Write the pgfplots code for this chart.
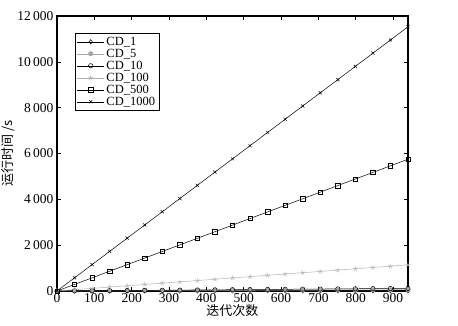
\documentclass[border=0pt]{standalone}
\usepackage{pgfplots}
\pgfplotsset{compat=1.18}
\usepackage{fontspec}
\setmainfont{Liberation Serif}
\newfontfamily\cjk{Noto Sans CJK SC}
\usetikzlibrary{plotmarks}
\pgfplotstableread{
x c1 c5 c10 c100 c500 c1000
0 0 0 0 0 0 0
47 0.6 3 6 57 288 576
94 1.2 6 11 114 575 1153
141 1.8 9 17 171 863 1729
188 2.4 12 23 228 1150 2306
235 3.0 15 29 285 1438 2882
282 3.6 17 34 342 1725 3459
329 4.2 20 40 399 2013 4035
376 4.8 23 46 456 2300 4612
423 5.4 26 51 513 2588 5188
470 6.0 29 57 570 2875 5765
517 6.6 32 63 627 3163 6341
564 7.2 35 68 684 3450 6918
611 7.8 38 74 741 3738 7494
658 8.4 41 80 798 4025 8071
705 9.0 44 86 855 4313 8647
752 9.6 46 91 912 4600 9224
799 10.2 49 97 969 4888 9800
846 10.8 52 103 1026 5175 10377
893 11.4 55 108 1083 5463 10953
940 12.0 58 114 1140 5750 11530
}\data
\begin{document}
\begin{tikzpicture}
\useasboundingbox (-57pt,-34pt) rectangle (401pt,291pt);
\begin{axis}[
  at={(0pt,0pt)}, anchor=south west,
  scale only axis, width=351pt, height=275pt,
  xmin=0, xmax=940, ymin=0, ymax=12000,
  xtick={0,100,...,900}, ytick={0,2000,...,12000},
  tick align=inside, major tick length=4pt,
  axis line style={line width=1.2pt},
  tick style={black, line width=0.6pt},
  every tick label/.append style={font=\fontsize{13.5}{13.5}\selectfont},
  /pgf/number format/assume math mode=true,
  /pgf/number format/1000 sep={\,},
  xticklabel style={yshift=1.5pt},
  yticklabel style={xshift=0pt},
  scaled ticks=false,
  xlabel={\cjk 迭代次数},
  ylabel={\cjk 运行时间 /s},
  xlabel style={font=\fontsize{13}{13}\selectfont, yshift=4pt},
  ylabel style={font=\fontsize{13}{13}\selectfont, yshift=-4pt},
  legend style={at={(0.05,0.94)}, anchor=north west, draw=black, line width=0.8pt,
    font=\fontsize{12.5}{10}\selectfont, row sep=-1.8pt, inner sep=2pt,
    legend cell align=left},
  legend image code/.code={\draw[mark=none] (0cm,0cm) -- (0.95cm,0cm); \draw[only marks] plot coordinates {(0.475cm,0cm)};},
  every axis plot/.append style={line width=0.5pt, mark size=2.2pt},
  clip=false,
]
\addplot[black, mark=diamond] table[x=x,y=c1] {\data};
\addplot[gray!70, mark=*, mark options={fill=gray!70}] table[x=x,y=c5] {\data};
\addplot[black, mark=o] table[x=x,y=c10] {\data};
\addplot[gray!60, mark=star, mark size=2.6pt] table[x=x,y=c100] {\data};
\addplot[black, mark=square] table[x=x,y=c500] {\data};
\addplot[black, mark=x] table[x=x,y=c1000] {\data};
\legend{CD\_1, CD\_5, CD\_10, CD\_100, CD\_500, CD\_1000}
\end{axis}
\end{tikzpicture}
\end{document}
